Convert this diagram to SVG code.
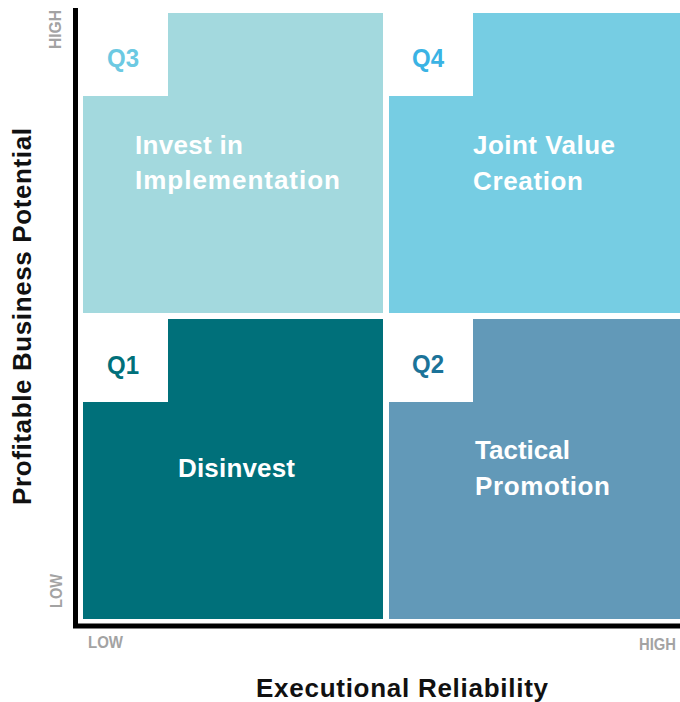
<svg xmlns="http://www.w3.org/2000/svg" width="680" height="702" viewBox="0 0 680 702">
  <style>
    .lbl { font-family: "Liberation Sans", "DejaVu Sans", sans-serif; font-weight: bold; }
    .name { font-size: 26px; fill: #ffffff; }
    .q { font-size: 26px; }
    .tick { font-size: 17px; fill: #a3a3a3; }
    .title { font-size: 26px; fill: #111111; }
    .axis { fill: #000000; }
  </style>
  <rect width="680" height="702" fill="#ffffff"/>

  <!-- Q3: top-left -->
  <g id="q3">
    <path d="M168 13 H383 V313 H83 V96 H168 Z" fill="#a3d9de"/>
    <text class="lbl q" x="107" y="67" fill="#6cc9e2" textLength="32" lengthAdjust="spacingAndGlyphs">Q3</text>
    <text class="lbl name" x="135" y="154" textLength="108" lengthAdjust="spacing">Invest in</text>
    <text class="lbl name" x="135" y="189" textLength="205" lengthAdjust="spacing">Implementation</text>
  </g>

  <!-- Q4: top-right -->
  <g id="q4">
    <path d="M473 13 H680 V313 H389 V96 H473 Z" fill="#76cde3"/>
    <text class="lbl q" x="412" y="67" fill="#3ab3e4" textLength="32" lengthAdjust="spacingAndGlyphs">Q4</text>
    <text class="lbl name" x="473" y="154" textLength="142" lengthAdjust="spacing">Joint Value</text>
    <text class="lbl name" x="473" y="190" textLength="110" lengthAdjust="spacing">Creation</text>
  </g>

  <!-- Q1: bottom-left -->
  <g id="q1">
    <path d="M168 319 H383 V619 H83 V402 H168 Z" fill="#00707a"/>
    <text class="lbl q" x="107" y="374" fill="#00707a" textLength="32" lengthAdjust="spacingAndGlyphs">Q1</text>
    <text class="lbl name" x="178" y="477" textLength="117" lengthAdjust="spacing">Disinvest</text>
  </g>

  <!-- Q2: bottom-right -->
  <g id="q2">
    <path d="M473 319 H680 V619 H389 V402 H473 Z" fill="#6299b8"/>
    <text class="lbl q" x="412" y="373" fill="#1b7399" textLength="32" lengthAdjust="spacingAndGlyphs">Q2</text>
    <text class="lbl name" x="475" y="459" textLength="95" lengthAdjust="spacing">Tactical</text>
    <text class="lbl name" x="475" y="495" textLength="135" lengthAdjust="spacing">Promotion</text>
  </g>

  <!-- axes -->
  <g id="axes">
    <rect class="axis" x="73" y="8" width="5" height="620"/>
    <rect class="axis" x="73" y="623.5" width="607" height="5"/>
    <text class="lbl tick" transform="translate(61 29.5) rotate(-90)" text-anchor="middle" textLength="39" lengthAdjust="spacingAndGlyphs">HIGH</text>
    <text class="lbl tick" transform="translate(61.5 591) rotate(-90)" text-anchor="middle" textLength="34" lengthAdjust="spacingAndGlyphs">LOW</text>
    <text class="lbl tick" x="88" y="648" textLength="35" lengthAdjust="spacingAndGlyphs">LOW</text>
    <text class="lbl tick" x="639" y="650" textLength="37" lengthAdjust="spacingAndGlyphs">HIGH</text>
    <text class="lbl title" x="256" y="697" textLength="292" lengthAdjust="spacing">Executional Reliability</text>
    <text class="lbl title" transform="translate(31 505) rotate(-90)" textLength="377" lengthAdjust="spacing">Profitable Business Potential</text>
  </g>
</svg>
